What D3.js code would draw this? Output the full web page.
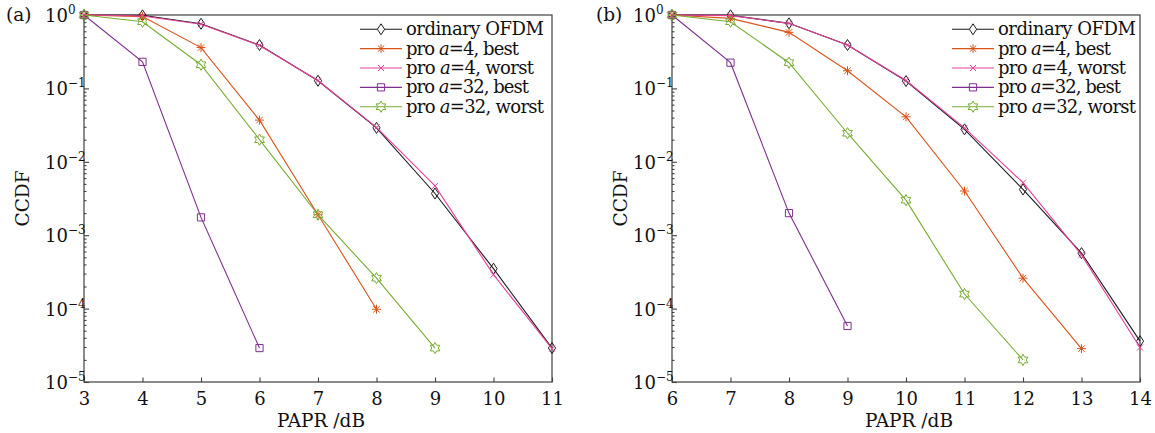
<!DOCTYPE html>
<html>
<head>
<meta charset="utf-8">
<script src="https://cdn.jsdelivr.net/npm/d3@7"></script>
<style>
  body { margin: 0; background: #fff; }
  svg { display: block; font-family: "DejaVu Serif", serif; }
</style>
</head>
<body>
<svg width="1155" height="433"></svg>
<script>
// ---- data ----
let seriesNames = ['ordinary OFDM', 'pro a=4, best', 'pro a=4, worst', 'pro a=32, best', 'pro a=32, worst']
let legendWidths = [138, 113, 128, 123, 138]

let xA = [3, 4, 5, 6, 7, 8, 9, 10, 11]
let a_ordinary = [1, 0.99, 0.76, 0.39, 0.127, 0.0290, 0.0037, 0.00035, 2.9e-5]
let a_pro4best = [1, 0.95, 0.36, 0.037, 0.0019, 9.8e-5]
let a_pro4worst = [1, 0.97, 0.75, 0.385, 0.128, 0.0295, 0.0047, 0.00029, 2.85e-5]
let a_pro32best = [1, 0.23, 0.00175, 2.9e-5]
let a_pro32worst = [1, 0.81, 0.21, 0.020, 0.0019, 0.00026, 2.9e-5]

let xB = [6, 7, 8, 9, 10, 11, 12, 13, 14]
let b_ordinary = [1, 0.99, 0.77, 0.39, 0.126, 0.0277, 0.0042, 0.00057, 3.6e-5]
let b_pro4best = [1, 0.90, 0.58, 0.174, 0.041, 0.0040, 0.00026, 2.85e-5]
let b_pro4worst = [1, 0.98, 0.77, 0.39, 0.128, 0.029, 0.0052, 0.00054, 2.95e-5]
let b_pro32best = [1, 0.224, 0.0020, 5.8e-5]
let b_pro32worst = [1, 0.81, 0.224, 0.0245, 0.0030, 0.000158, 2.0e-5]

let yTickExps = [0, -1, -2, -3, -4, -5]

let colors = ['#1a1a1a', '#D95319', '#E6409B', '#7E2F8E', '#77AC30']
let textColor = '#111'

// ---- custom marker symbols ----
let diamond = { draw: (c, s) => { c.moveTo(0, -5.5); c.lineTo(3.6, 0); c.lineTo(0, 5.5); c.lineTo(-3.6, 0); c.closePath() } }
let asterisk = { draw: (c, s) => {
  let r = 4.5
  c.moveTo(0, -r); c.lineTo(0, r)
  c.moveTo(-r, 0); c.lineTo(r, 0)
  let d = r * 0.72
  c.moveTo(-d, -d); c.lineTo(d, d)
  c.moveTo(-d, d); c.lineTo(d, -d)
} }
let cross = { draw: (c, s) => { let r = 3; c.moveTo(-r, -r); c.lineTo(r, r); c.moveTo(-r, r); c.lineTo(r, -r) } }
let square = { draw: (c, s) => { let r = 3.6; c.rect(-r, -r, 2 * r, 2 * r) } }
let hexagram = { draw: (c, s) => {
  let ro = 5.6, ri = ro / Math.sqrt(3)
  for (let i = 0; i < 12; i++) {
    let a = -Math.PI / 2 + i * Math.PI / 6
    let r = i % 2 === 0 ? ro : ri
    if (i === 0) c.moveTo(r * Math.cos(a), r * Math.sin(a))
    else c.lineTo(r * Math.cos(a), r * Math.sin(a))
  }
  c.closePath()
} }
let markers = [diamond, asterisk, cross, square, hexagram]

let svg = d3.select('svg')
let plotTop = 15
let plotBottom = 382

let drawPanel = (opts) => {
  let xScale = d3.scaleLinear().domain(opts.domain).range([opts.left, opts.right])
  let yScale = d3.scaleLog().domain([1e-5, 1]).range([plotBottom, plotTop])

  let g = svg.append('g')

  // box
  g.append('rect')
  .attr('x', opts.left).attr('y', plotTop)
  .attr('width', opts.right - opts.left).attr('height', plotBottom - plotTop)
  .attr('fill', 'none').attr('stroke', '#404040').attr('stroke-width', 1.2)

  // x axis
  let xAxis = d3.axisBottom(xScale)
  .tickValues(opts.xs)
  .tickSize(-4.5)
  .tickSizeOuter(0)
  .tickPadding(10)
  .tickFormat(d3.format('d'))
  let gx = g.append('g')
  .attr('transform', 'translate(0,' + plotBottom + ')')
  .call(xAxis)
  gx.select('.domain').remove()
  gx.selectAll('line').attr('stroke', '#404040').attr('stroke-width', 1.2)
  gx.selectAll('text').attr('font-family', 'DejaVu Serif').attr('font-size', 18).attr('fill', textColor)

  // y axis: major and minor ticks pointing inward
  let majors = yTickExps.map((e) => Math.pow(10, e))
  let minors = []
  for (let e = -5; e < 0; e++) {
    for (let m = 2; m <= 9; m++) minors.push(m * Math.pow(10, e))
  }
  let gy = g.append('g')
  .attr('transform', 'translate(' + opts.left + ',0)')
  .call(d3.axisLeft(yScale).tickValues(majors).tickSize(-5).tickSizeOuter(0).tickFormat(''))
  gy.select('.domain').remove()
  let gym = g.append('g')
  .attr('transform', 'translate(' + opts.left + ',0)')
  .call(d3.axisLeft(yScale).tickValues(minors).tickSize(-2.5).tickSizeOuter(0).tickFormat(''))
  gym.select('.domain').remove()
  g.selectAll('.tick line').attr('stroke', '#404040').attr('stroke-width', 1.1)

  // y tick labels 10^n
  let labels = g.append('g')
  .selectAll('text')
  .data(yTickExps)
  .enter()
  .append('text')
  .attr('x', opts.left - 39)
  .attr('y', (e) => yScale(Math.pow(10, e)) + 7)
  .attr('font-size', 18)
  .attr('fill', textColor)
  labels.append('tspan').text('10')
  labels.append('tspan')
  .attr('font-size', 12)
  .attr('dy', -8)
  .text((e) => e === 0 ? '0' : '\u2212' + Math.abs(e))

  // axis titles
  g.append('text')
  .attr('x', (opts.left + opts.right) / 2 + 3)
  .attr('y', 427)
  .attr('text-anchor', 'middle')
  .attr('font-size', 18.5)
  .attr('fill', textColor)
  .text('PAPR /dB')

  g.append('text')
  .attr('transform', 'translate(' + opts.ylabelX + ',' + ((plotTop + plotBottom) / 2) + ') rotate(-90)')
  .attr('text-anchor', 'middle')
  .attr('font-size', 18.5)
  .attr('fill', textColor)
  .text('CCDF')

  g.append('text')
  .attr('x', opts.tagX)
  .attr('y', 21)
  .attr('font-size', 18.5)
  .attr('fill', textColor)
  .text(opts.tag)

  // series
  let line = d3.line()
  .x((d) => xScale(d[0]))
  .y((d) => yScale(d[1]))

  opts.series.forEach((vals, i) => {
    let pts = vals.map((v, j) => [opts.xs[j], v])
    g.append('path')
    .datum(pts)
    .attr('d', line)
    .attr('fill', 'none')
    .attr('stroke', colors[i])
    .attr('stroke-width', 1.1)

    g.append('g')
    .selectAll('path')
    .data(pts)
    .enter()
    .append('path')
    .attr('d', d3.symbol().type(markers[i]))
    .attr('transform', (d) => 'translate(' + xScale(d[0]) + ',' + yScale(d[1]) + ')')
    .attr('fill', 'none')
    .attr('stroke', colors[i])
    .attr('stroke-width', 1)
  })

  // legend
  let leg = g.append('g')
  seriesNames.forEach((name, i) => {
    let y = 29.3 + i * 19.35
    leg.append('line')
    .attr('x1', opts.legX).attr('x2', opts.legX + 42)
    .attr('y1', y).attr('y2', y)
    .attr('stroke', colors[i]).attr('stroke-width', 1.1)
    leg.append('path')
    .attr('d', d3.symbol().type(markers[i]))
    .attr('transform', 'translate(' + (opts.legX + 21) + ',' + y + ')')
    .attr('fill', i === 0 ? '#fff' : 'none')
    .attr('stroke', colors[i])
    .attr('stroke-width', 1)
    let t = leg.append('text')
    .attr('x', opts.legX + 46)
    .attr('y', y + 6)
    .attr('font-size', 18)
    .attr('fill', textColor)
    .attr('textLength', legendWidths[i])
    .attr('lengthAdjust', 'spacing')
    let parts = name.split('a=')
    if (parts.length > 1) {
      t.append('tspan').text(parts[0])
      t.append('tspan').attr('font-style', 'italic').text('a')
      t.append('tspan').text('=' + parts[1])
    } else {
      t.text(name)
    }
  })
}

drawPanel({
  domain: [3, 11], xs: xA, left: 84, right: 552,
  series: [a_ordinary, a_pro4best, a_pro4worst, a_pro32best, a_pro32worst],
  ylabelX: 29, tag: '(a)', tagX: 6, legX: 360
})

drawPanel({
  domain: [6, 14], xs: xB, left: 672, right: 1140,
  series: [b_ordinary, b_pro4best, b_pro4worst, b_pro32best, b_pro32worst],
  ylabelX: 627, tag: '(b)', tagX: 596, legX: 952
})
</script>
</body>
</html>
